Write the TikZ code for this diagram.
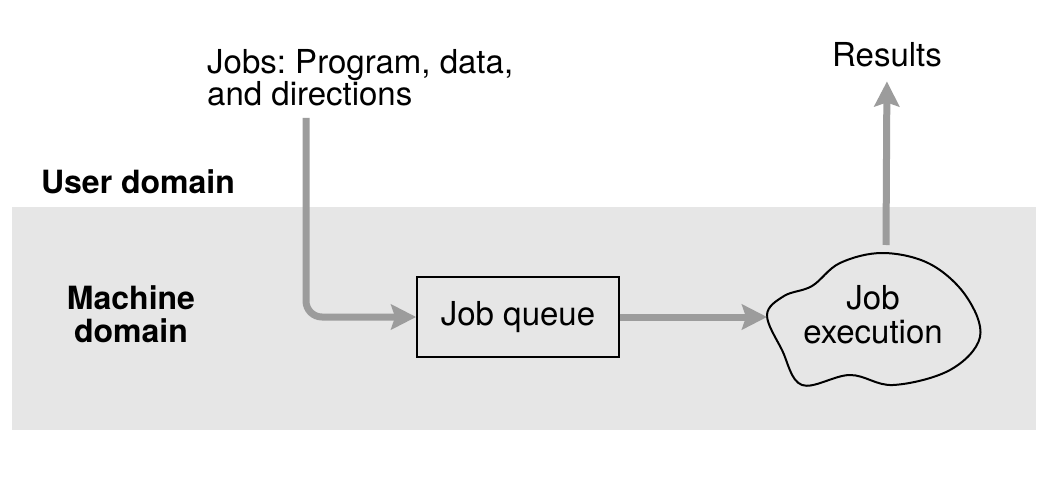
\documentclass[tikz,border=0pt]{standalone}
\usepackage{fontspec}
\setmainfont{TeX Gyre Heros}
\usetikzlibrary{arrows.meta}
\definecolor{bandgray}{HTML}{E6E6E6}
\definecolor{flowgray}{HTML}{9C9C9C}
\frenchspacing

\begin{document}
\begin{tikzpicture}[x=1pt, y=-1pt,
    txt/.style={font=\fontsize{33}{29}\selectfont, inner sep=0pt},
    domainlbl/.style={font=\fontsize{32}{33}\selectfont\bfseries, inner sep=0pt, align=center},
    box/.style={draw=black, line width=1.8pt, minimum width=202pt,
        minimum height=80pt, inner sep=0pt, font=\fontsize{33}{34}\selectfont},
    flow/.style={draw=flowgray, line width=7pt,
        -{Stealth[length=25pt, width=25pt, inset=4pt]}}
]
    \useasboundingbox (0,0) rectangle (1064,481);
    \fill[white] (0,0) rectangle (1064,481);
    \fill[bandgray] (12,207) rectangle (1036,430);

    \node[txt, align=left, anchor=west] (jobs) at (207,78) {Jobs: Program, data,\\and directions};
    \node[txt] (results) at (887,55) {Results};
    \node[domainlbl] (user) at (138,182) {User domain};
    \node[domainlbl] (machine) at (131,314) {Machine\\domain};
    \node[box] (queue) at (518,317) {Job queue};
    \node[txt, align=center, font=\fontsize{33}{34}\selectfont] (exec) at (873,315) {Job\\execution};

    % cloud round the execution node
    \draw[line width=2pt] plot[smooth cycle, tension=0.6] coordinates {
        (883,253) (840,263) (812,286) (784,296) (767,315)
        (782,350) (802,385) (850,375) (893,385) (950,370)
        (980,337) (966,296) (930,264)};

    \coordinate (jobsin) at (306,118);
    \coordinate (execw) at (767,317);
    \coordinate (execn) at (886,245);

    \draw[flow, rounded corners=16pt] (jobsin) |- (queue.west);
    \draw[flow] (queue.east) -- (execw);
    \draw[flow, shorten >=14pt] (execn) -- (results.south);
\end{tikzpicture}
\end{document}
